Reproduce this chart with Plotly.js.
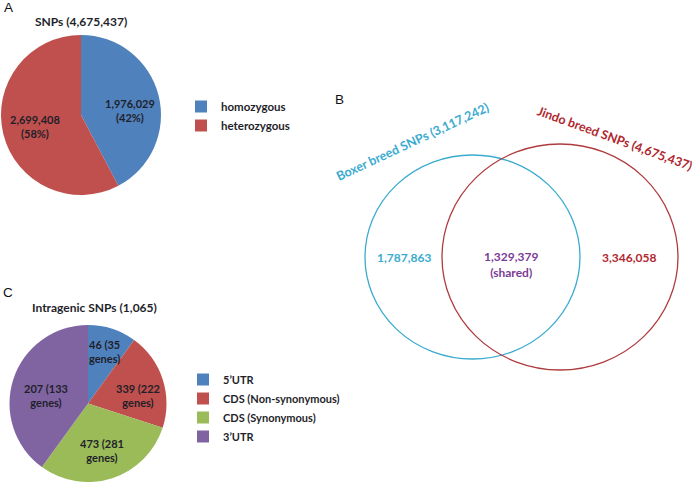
<!DOCTYPE html>
<html>
<head>
<meta charset="utf-8">
<script src="https://cdn.plot.ly/plotly-3.0.1.min.js"></script>
<style>html,body{margin:0;padding:0;background:#fff}#chart{width:693px;height:484px}</style>
</head>
<body>
<div id="chart"></div>
<script>
// ---- Data ----
var zygosityLabels = ["homozygous", "heterozygous"];
var zygosityValues = [1976029, 2699408];
var zygosityTotal = 4675437;

var regionLabels = ["5\u2019UTR", "CDS (Non-synonymous)", "CDS (Synonymous)", "3\u2019UTR"];
var regionSnps = [46, 339, 473, 207];
var regionGenes = [35, 222, 281, 133];
// slice sizes as drawn in the reference picture (percent of the circle)
var regionSliceShares = [10, 20, 30, 40];
var intragenicTotal = 1065;

var boxerTotal = 3117242;
var jindoTotal = 4675437;
var boxerOnly = 1787863;
var sharedSnps = 1329379;
var jindoOnly = 3346058;

// ---- Styling ----
var W = 693, H = 484;
var FONT = "Lato, sans-serif";
var LETTER_FONT = "Liberation Sans, Arial, sans-serif";
function px(x){ return x / W; }
function py(y){ return 1 - y / H; }
function fmt(n){ return n.toLocaleString('en-US'); }

var pieColorsA = ["#4F81BD", "#C0504D"];
var pieColorsC = ["#4F81BD", "#C0504D", "#9BBB59", "#8064A2"];
var boxerColor = "#3AABCF";
var jindoColor = "#AE3B3E";
var jindoText = "#B0282F";
var sharedColor = "#7B3B96";
var textDark = "#1f1f2a";

var traces = [
  {
    type: "pie", labels: zygosityLabels, values: zygosityValues,
    sort: false, direction: "clockwise", rotation: 0,
    marker: {colors: pieColorsA, line: {width: 0}},
    textinfo: "none", hoverinfo: "label+value+percent",
    domain: {x: [px(1), px(161)], y: [py(195), py(35)]},
    legend: "legend"
  },
  {
    type: "pie", labels: regionLabels, values: regionSliceShares,
    sort: false, direction: "clockwise", rotation: 0,
    marker: {colors: pieColorsC, line: {width: 0}},
    textinfo: "none", hoverinfo: "label",
    domain: {x: [px(9), px(167)], y: [py(482), py(325)]},
    legend: "legend2"
  }
];

var ann = [];
function addText(x, y, text, size, color, weight, angle, family){
  ann.push({xref: "paper", yref: "paper", x: px(x), y: py(y), text: text,
    showarrow: false, xanchor: "center", yanchor: "middle",
    textangle: angle || 0,
    font: {family: family || FONT, size: size, color: color, weight: weight || 400}});
}
// Panel letters
addText(8, 7, "A", 13.5, "#111", 400, 0, LETTER_FONT);
addText(339, 99, "B", 13.5, "#111", 400, 0, LETTER_FONT);
addText(8, 292, "C", 13.5, "#111", 400, 0, LETTER_FONT);

// Pie A
addText(81, 22, "SNPs (" + fmt(zygosityTotal) + ")", 12, textDark, 700);
var pctA = zygosityValues.map(function(v){ return Math.round(100 * v / zygosityTotal); });
var posA = [[130, 110], [35, 126]];
for (var i = 0; i < zygosityValues.length; i++) {
  addText(posA[i][0], posA[i][1], fmt(zygosityValues[i]) + "<br>(" + pctA[i] + "%)", 11, textDark, 700);
}

// Pie C
addText(94, 307, "Intragenic SNPs (" + fmt(intragenicTotal) + ")", 12, textDark, 700);
var posC = [[104, 351], [138, 395], [102, 450], [46, 395]];
for (var j = 0; j < regionSnps.length; j++) {
  addText(posC[j][0], posC[j][1], regionSnps[j] + " (" + regionGenes[j] + "<br>genes)", 11, textDark, 700);
}

// Venn B
addText(413, 141, "Boxer breed SNPs (" + fmt(boxerTotal) + ")", 12.5, boxerColor, 700, -25);
addText(615, 138, "Jindo breed SNPs (" + fmt(jindoTotal) + ")", 12.5, jindoText, 700, 20);
addText(404, 257, fmt(boxerOnly), 12, boxerColor, 700);
addText(511, 264, fmt(sharedSnps) + "<br>(shared)", 12, sharedColor, 700);
addText(629, 257, fmt(jindoOnly), 12, jindoText, 700);

var shapes = [
  {type: "circle", xref: "paper", yref: "paper",
   x0: px(365), x1: px(580), y0: py(359), y1: py(155),
   line: {color: boxerColor, width: 1.3}},
  {type: "circle", xref: "paper", yref: "paper",
   x0: px(442), x1: px(678), y0: py(370), y1: py(144),
   line: {color: jindoColor, width: 1.3}}
];

var layout = {
  width: W, height: H,
  margin: {l: 0, r: 0, t: 0, b: 0},
  paper_bgcolor: "#fff", plot_bgcolor: "#fff",
  font: {family: FONT, size: 11, color: "#111"},
  showlegend: true,
  legend: {x: px(181), y: py(92), xanchor: "left", yanchor: "top",
    font: {family: FONT, size: 11.5, color: textDark, weight: 700}, bgcolor: "rgba(0,0,0,0)",
    tracegroupgap: 0},
  legend2: {x: px(183), y: py(365), xanchor: "left", yanchor: "top",
    font: {family: FONT, size: 11, color: textDark, weight: 700}, bgcolor: "rgba(0,0,0,0)",
    tracegroupgap: 0},
  annotations: ann,
  shapes: shapes
};

Plotly.newPlot("chart", traces, layout, {displayModeBar: false, staticPlot: true});
</script>
</body>
</html>
